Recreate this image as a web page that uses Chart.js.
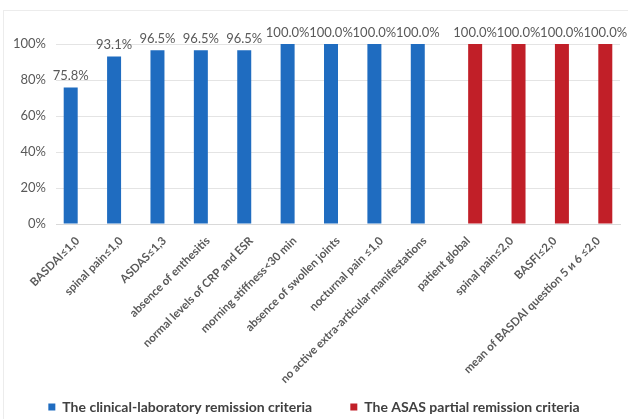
<!DOCTYPE html>
<html>
<head>
<meta charset="utf-8">
<script src="https://cdn.jsdelivr.net/npm/chart.js@4/dist/chart.umd.min.js"></script>
<style>
  html, body { margin: 0; padding: 0; background: #fff; }
  #wrap { position: relative; width: 628px; height: 419px; overflow: hidden; }
  #frame { position: absolute; left: 3px; top: 10px; width: 640px; height: 430px; border: 1px solid #ececec; box-sizing: border-box; }
  canvas { position: absolute; left: 0; top: 0; }
</style>
</head>
<body>
<div id="wrap">
  <div id="frame"></div>
  <canvas id="c" width="628" height="419"></canvas>
</div>
<script>
const categories = [
  'BASDAI≤1,0',
  'spinal pain≤1,0',
  'ASDAS≤1,3',
  'absence of enthesitis',
  'normal levels of CRP and ESR',
  'morning stiffness<30 min',
  'absence of swollen joints',
  'nocturnal pain ≤1,0',
  'no active extra-articular manifestations',
  'patient global',
  'spinal pain≤2,0',
  'BASFI≤2,0',
  'mean of BASDAI question 5 и 6 ≤2,0'
];
const clinicalLab = [75.8, 93.1, 96.5, 96.5, 96.5, 100.0, 100.0, 100.0, 100.0, null, null, null, null];
const asasPartial = [null, null, null, null, null, null, null, null, null, 100.0, 100.0, 100.0, 100.0];
const yTicks = [0, 20, 40, 60, 80, 100];

const BLUE = '#1f6cc0';
const RED = '#c11f28';
const TEXT = '#595959';
const FONT = 'Lato, "Open Sans", sans-serif';

// Writes each bar's percentage just above it
const valueLabels = {
  id: 'valueLabels',
  afterDatasetsDraw(chart) {
    const ctx = chart.ctx;
    ctx.save();
    ctx.font = '13px ' + FONT;
    ctx.fillStyle = TEXT;
    ctx.textAlign = 'center';
    ctx.textBaseline = 'bottom';
    chart.data.datasets.forEach((ds, di) => {
      const meta = chart.getDatasetMeta(di);
      meta.data.forEach((bar, i) => {
        const v = ds.data[i];
        if (v === null || v === undefined) return;
        ctx.fillText(v.toFixed(1) + '%', bar.x, bar.y - 5);
      });
    });
    ctx.restore();
  }
};

new Chart(document.getElementById('c'), {
  type: 'bar',
  data: {
    labels: categories,
    datasets: [
      { label: 'The clinical-laboratory remission criteria', data: clinicalLab, backgroundColor: BLUE },
      { label: 'The ASAS partial remission criteria', data: asasPartial, backgroundColor: RED }
    ]
  },
  options: {
    responsive: false,
    animation: false,
    layout: { padding: { top: 44, left: 8, right: 8, bottom: -5 } },
    datasets: { bar: { categoryPercentage: 0.645, barPercentage: 1.0 } },
    scales: {
      x: {
        grid: { display: false },
        border: { display: true, color: '#d9d9d9' },
        ticks: {
          autoSkip: false,
          maxRotation: 45,
          minRotation: 45,
          color: TEXT,
          padding: 2,
          font: { family: FONT, size: 11.5, weight: 'bold' }
        },
        afterFit(scale) { scale.height = 165; }
      },
      y: {
        min: 0,
        max: 100,
        afterBuildTicks(scale) { scale.ticks = yTicks.map(v => ({ value: v })); },
        grid: { color: '#e4e4e4', drawTicks: false },
        border: { display: false },
        ticks: {
          color: TEXT,
          padding: 10,
          font: { family: FONT, size: 13 },
          callback: v => v + '%'
        },
        afterFit(scale) { scale.width = 48; }
      }
    },
    plugins: {
      legend: {
        position: 'bottom',
        labels: {
          boxWidth: 7,
          boxHeight: 7,
          padding: 11,
          color: '#404040',
          font: { family: FONT, size: 14, weight: 'bold' },
          generateLabels(chart) {
            const items = Chart.defaults.plugins.legend.labels.generateLabels(chart);
            // wider gap after the first entry
            if (items.length) items[0].text += '        ';
            return items;
          }
        }
      },
      tooltip: { enabled: false }
    }
  },
  plugins: [valueLabels]
});
</script>
</body>
</html>
